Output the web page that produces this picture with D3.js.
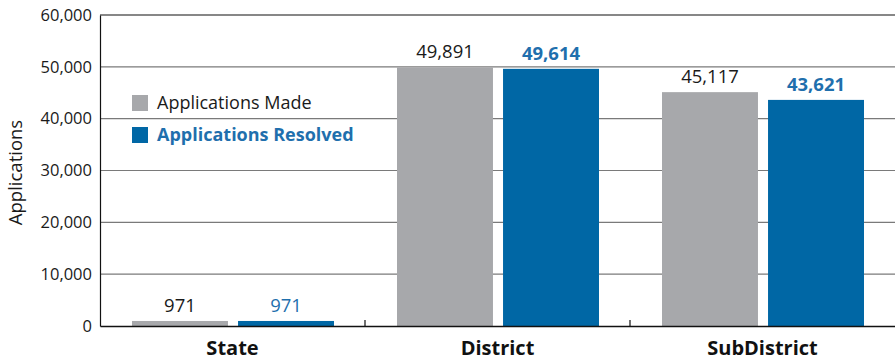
<!DOCTYPE html>
<html>
<head>
<meta charset="utf-8">
<script src="https://cdn.jsdelivr.net/npm/d3@7"></script>
<style>
  html, body { margin: 0; padding: 0; background: #fff; }
  svg { display: block; font-family: "Open Sans", "Noto Sans", sans-serif; }
</style>
</head>
<body>
<svg id="chart" width="895" height="362"></svg>
<script>
// Applications by jurisdiction level
const categories = ["State", "District", "SubDistrict"];
const seriesNames = ["Applications Made", "Applications Resolved"];
const applicationsMade = [971, 49891, 45117];
const applicationsResolved = [971, 49614, 43621];
const yTicks = [0, 10000, 20000, 30000, 40000, 50000, 60000];

const colors = { made: "#a7a8ab", resolved: "#0067a5" };
const labelColors = { made: "#1a1a1a", resolved: "#1f6fad" };

const svg = d3.select("#chart");
const margin = { top: 15, right: 0, bottom: 36, left: 100 };
const W = 895, H = 362;
const innerW = W - margin.left - margin.right;
const innerH = H - margin.top - margin.bottom;

const g = svg.append("g").attr("transform", `translate(${margin.left},${margin.top})`);

const x = d3.scaleBand().domain(categories).range([0, innerW]).paddingInner(0).paddingOuter(0);
const xs = d3.scaleBand().domain(["made", "resolved"]).range([32, x.bandwidth() - 31]).paddingInner(0.095);
const y = d3.scaleLinear().domain([0, 60000]).range([innerH, 0]);

// gridlines
g.append("g").selectAll("line")
  .data(yTicks.filter(t => t > 0 && t < 60000))
  .join("line")
  .attr("x1", 0).attr("x2", innerW)
  .attr("y1", d => y(d)).attr("y2", d => y(d))
  .attr("stroke", "#7a7a7a").attr("stroke-width", 1.2);

// top border
g.append("line").attr("x1", 0).attr("x2", innerW)
  .attr("y1", y(60000)).attr("y2", y(60000))
  .attr("stroke", "#111").attr("stroke-width", 1.2);

// bars
const rows = categories.map((c, i) => ({
  cat: c,
  vals: [
    { key: "made", v: applicationsMade[i] },
    { key: "resolved", v: applicationsResolved[i] }
  ]
}));

const grp = g.selectAll("g.cat").data(rows).join("g")
  .attr("class", "cat")
  .attr("transform", d => `translate(${x(d.cat)},0)`);

grp.selectAll("rect").data(d => d.vals).join("rect")
  .attr("x", d => xs(d.key))
  .attr("width", xs.bandwidth())
  .attr("y", d => y(d.v))
  .attr("height", d => innerH - y(d.v))
  .attr("fill", d => colors[d.key]);

grp.selectAll("text.val").data(d => d.vals).join("text")
  .attr("class", "val")
  .attr("x", d => xs(d.key) + xs.bandwidth() / 2)
  .attr("y", d => y(d.v) - 9)
  .attr("text-anchor", "middle")
  .attr("font-size", 18.5)
  .attr("font-weight", d => d.key === "resolved" && d.v > 10000 ? 700 : 400)
  .attr("fill", d => labelColors[d.key])
  .text(d => d3.format(",")(d.v));

// y axis
const yAxis = g.append("g").call(
  d3.axisLeft(y).tickValues(yTicks).tickFormat(d3.format(",")).tickSize(0).tickPadding(8)
);
yAxis.select(".domain").attr("stroke", "#111").attr("stroke-width", 1.2);
yAxis.selectAll("text").attr("font-size", 16.5).attr("fill", "#1a1a1a")
  .attr("font-family", "\"Open Sans\", sans-serif");

// x axis
const xAxis = g.append("g").attr("transform", `translate(0,${innerH})`)
  .call(d3.axisBottom(x).tickSize(0).tickPadding(15));
xAxis.select(".domain").attr("stroke", "#111").attr("stroke-width", 1.5);
xAxis.selectAll("text").attr("font-size", 20).attr("font-weight", 700).attr("fill", "#111")
  .attr("font-family", "\"Open Sans\", sans-serif");

// category separator ticks
g.append("g").selectAll("line")
  .data(categories.slice(1))
  .join("line")
  .attr("x1", d => x(d)).attr("x2", d => x(d))
  .attr("y1", innerH).attr("y2", innerH - 6)
  .attr("stroke", "#111").attr("stroke-width", 1.2);

// y axis title
svg.append("text")
  .attr("transform", `translate(22,${margin.top + innerH / 2 + 2}) rotate(-90)`)
  .attr("text-anchor", "middle")
  .attr("font-size", 18.5)
  .attr("fill", "#1a1a1a")
  .text("Applications");

// legend
const legend = g.append("g").attr("transform", "translate(32,80)");
const legendRows = [
  { name: seriesNames[0], key: "made", weight: 400 },
  { name: seriesNames[1], key: "resolved", weight: 700 }
];
const li = legend.selectAll("g").data(legendRows).join("g")
  .attr("transform", (d, i) => `translate(0,${i * 32})`);
li.append("rect").attr("width", 16).attr("height", 16).attr("fill", d => colors[d.key]);
li.append("text")
  .attr("x", 25).attr("y", 8).attr("dy", "0.35em")
  .attr("font-size", 18)
  .attr("font-weight", d => d.weight)
  .attr("fill", d => labelColors[d.key])
  .text(d => d.name);
</script>
</body>
</html>
